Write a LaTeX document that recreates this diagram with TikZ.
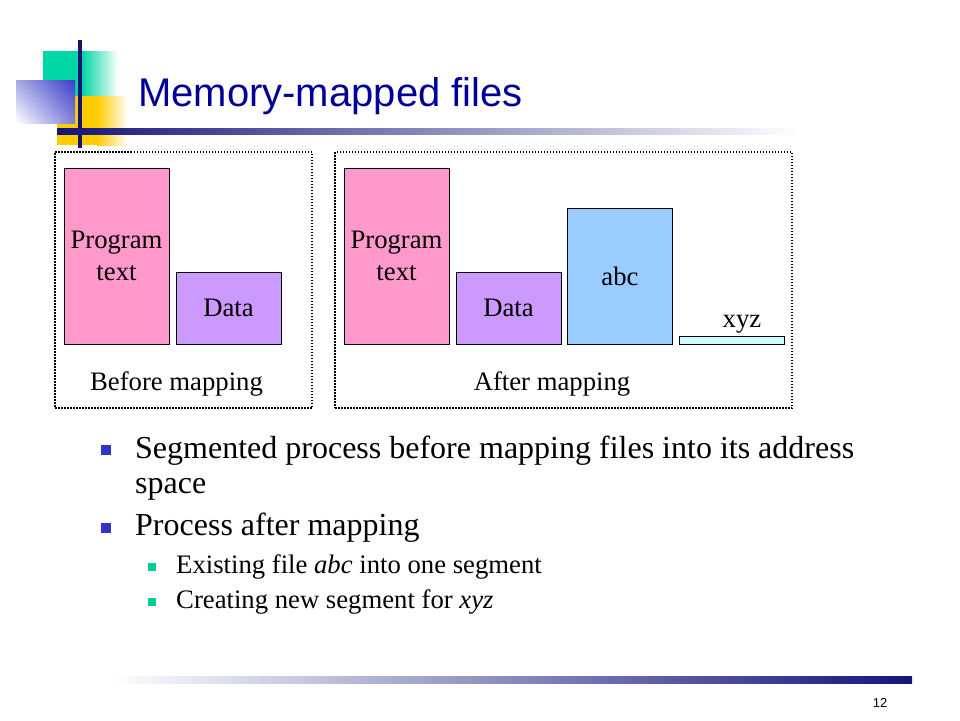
\documentclass[tikz,border=0pt]{standalone}
\usepackage{fontspec}
\setmainfont{Liberation Serif}
\newfontfamily\arialfont{Liberation Sans}
\usetikzlibrary{shadings}

\definecolor{titleblue}{RGB}{0,0,153}
\definecolor{navy}{RGB}{20,20,120}
\definecolor{logoteal}{RGB}{0,214,166}
\definecolor{logoyellow}{RGB}{255,204,0}
\definecolor{logoblue}{RGB}{60,60,200}
\definecolor{progpink}{RGB}{255,153,204}
\definecolor{datapurple}{RGB}{204,153,255}
\definecolor{abcblue}{RGB}{153,204,255}
\definecolor{xyzcyan}{RGB}{204,255,255}
\definecolor{bulletblue}{RGB}{51,51,204}
\definecolor{bulletteal}{RGB}{0,204,153}

\begin{document}
\begin{tikzpicture}[x=1pt, y=-1pt,
  seg/.style={draw, rectangle, line width=0.8pt, minimum width=105pt, inner sep=0pt,
              align=center, font=\fontsize{26.7}{32}\selectfont},
  frame/.style={draw, rectangle, dash pattern=on 1.5pt off 1.5pt, line width=1.4pt, inner sep=0pt},
  caption/.style={anchor=base, inner sep=0pt, font=\fontsize{26.7}{32}\selectfont},
  itemA/.style={fill=bulletblue, minimum size=10pt, inner sep=0pt},
  itemB/.style={fill=bulletteal, minimum size=8pt, inner sep=0pt},
  lineA/.style={anchor=base west, inner sep=0pt, font=\fontsize{32}{38}\selectfont},
  lineB/.style={anchor=base west, inner sep=0pt, font=\fontsize{26.7}{32}\selectfont}]

\useasboundingbox (0,0) rectangle (960,720);

% logo
\fill[logoteal] (43,51) rectangle (82,96);
\shade[left color=logoteal, right color=white] (82,51) rectangle (118,96);
\fill[logoyellow] (57,96) rectangle (97,145);
\shade[left color=logoyellow, right color=white] (97,96) rectangle (128,145);
\shade[upper left=logoblue!45!white, upper right=logoblue, lower left=white, lower right=logoblue!65!white]
  (16,80) rectangle (75,123);
\fill[navy] (78,40) rectangle (82,148);
\shade[left color=navy, middle color=navy!60!white, right color=white] (57,128) rectangle (800,134);

\node[anchor=base west, inner sep=0pt, text=titleblue, font=\arialfont\fontsize{40}{48}\selectfont]
  (title) at (138,106) {Memory-mapped files};

% before mapping
\node[frame, minimum width=257pt, minimum height=256pt] (before) at (183.5,280) {};
\node[seg, fill=progpink, minimum height=176pt] (prog1) at (116.5,256) {Program\\text};
\node[seg, fill=datapurple, minimum height=72pt] (data1) at (228.5,308) {Data};
\node[caption] (beforecap) at (176.5,390) {Before mapping};

% after mapping
\node[frame, minimum width=457pt, minimum height=256pt] (after) at (563.5,280) {};
\node[seg, fill=progpink, minimum height=176pt] (prog2) at (396.5,256) {Program\\text};
\node[seg, fill=datapurple, minimum height=72pt] (data2) at (508.5,308) {Data};
\node[seg, fill=abcblue, minimum height=136pt] (abc) at (620,276) {abc};
\node[seg, fill=xyzcyan, minimum height=8pt] (xyz) at (732,340) {};
\node[caption] (xyzcap) at (742,327) {xyz};
\node[caption] (aftercap) at (552,390) {After mapping};

% bullets
\node[itemA] (b1) at (105.5,450) {};
\node[lineA] (t1) at (135,458) {Segmented process before mapping files into its address};
\node[lineA] (t1b) at (135,493) {space};
\node[itemA] (b2) at (105.5,528) {};
\node[lineA] (t2) at (135,535) {Process after mapping};
\node[itemB] (b3) at (152,567) {};
\node[lineB] (t3) at (176,573) {Existing file \textit{abc} into one segment};
\node[itemB] (b4) at (152,602) {};
\node[lineB] (t4) at (176,608) {Creating new segment for \textit{xyz}};

% footer
\shade[left color=white, middle color=navy!40!white, right color=navy] (110,676) rectangle (912,683);
\node[anchor=base, inner sep=0pt, font=\arialfont\fontsize{13}{15}\selectfont] (page) at (880,707) {12};

\end{tikzpicture}
\end{document}
